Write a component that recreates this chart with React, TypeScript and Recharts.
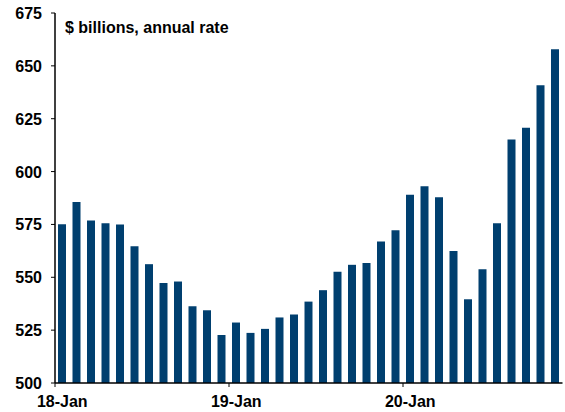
import { BarChart, Bar, XAxis, YAxis } from 'recharts'

const years = ['18', '19', '20']
const monthNames = ['Jan', 'Feb', 'Mar', 'Apr', 'May', 'Jun', 'Jul', 'Aug', 'Sep', 'Oct', 'Nov', 'Dec']
const months = years.flatMap((y) => monthNames.map((m) => `${y}-${m}`)).slice(0, 35)

const spending = [
  575.1, 585.6, 576.9, 575.6, 575.0, 564.7, 556.2, 547.3, 548.0, 536.3, 534.4, 522.7,
  528.6, 523.7, 525.6, 531.0, 532.4, 538.5, 543.9, 552.6, 555.9, 556.7, 566.9, 572.3,
  589.0, 593.0, 587.9, 562.4, 539.6, 553.8, 575.5, 615.2, 620.7, 640.8, 657.9,
]

const xTicks = ['18-Jan', '19-Jan', '20-Jan']
const yTicks = [500, 525, 550, 575, 600, 625, 650, 675]

const chartData = months.map((m, i) => ({ month: m, value: spending[i] }))

const W = 565
const H = 412
const LEFT = 55
const RIGHT = 2.5
const TOP = 13
const BOTTOM = 383
const band = (W - LEFT - RIGHT) / months.length
const font = '"Liberation Sans", Arial, sans-serif'

function XTick({ x, payload }: any) {
  const lx = x - band / 2
  return (
    <g>
      <line x1={lx} x2={lx} y1={BOTTOM} y2={BOTTOM + 4} stroke="#000" />
      <text x={x} y={407} textAnchor="middle" fontFamily={font} fontWeight="bold" fontSize={16} fill="#000">
        {payload.value}
      </text>
    </g>
  )
}

function YTick({ y, payload }: any) {
  return (
    <text x={42} y={y} dy={6} textAnchor="end" fontFamily={font} fontWeight="bold" fontSize={16} fill="#000">
      {payload.value}
    </text>
  )
}

export default function App() {
  return (
    <div style={{ position: 'absolute', left: 0, top: 0, width: W, height: H, background: '#fff' }}>
      <BarChart width={W} height={H} data={chartData} margin={{ top: TOP, right: RIGHT, bottom: 0, left: 0 }}>
        <XAxis
          dataKey="month"
          ticks={xTicks}
          interval={0}
          tickLine={false}
          tick={<XTick />}
          height={H - BOTTOM - TOP + TOP}
          axisLine={{ stroke: '#000', strokeWidth: 1.5 }}
        />
        <YAxis
          domain={[500, 675]}
          ticks={yTicks}
          interval={0}
          width={LEFT}
          tickSize={4}
          tick={<YTick />}
          axisLine={{ stroke: '#000', strokeWidth: 1.5 }}
          tickLine={{ stroke: '#000' }}
        />
        <Bar dataKey="value" fill="#003F6F" barSize={8} isAnimationActive={false} />
      </BarChart>
      <svg width={W} height={H} style={{ position: 'absolute', left: 0, top: 0, pointerEvents: 'none' }}>
        <text x={65} y={33} fontFamily={font} fontWeight="bold" fontSize={16} fill="#000">
          $ billions, annual rate
        </text>
      </svg>
    </div>
  )
}
